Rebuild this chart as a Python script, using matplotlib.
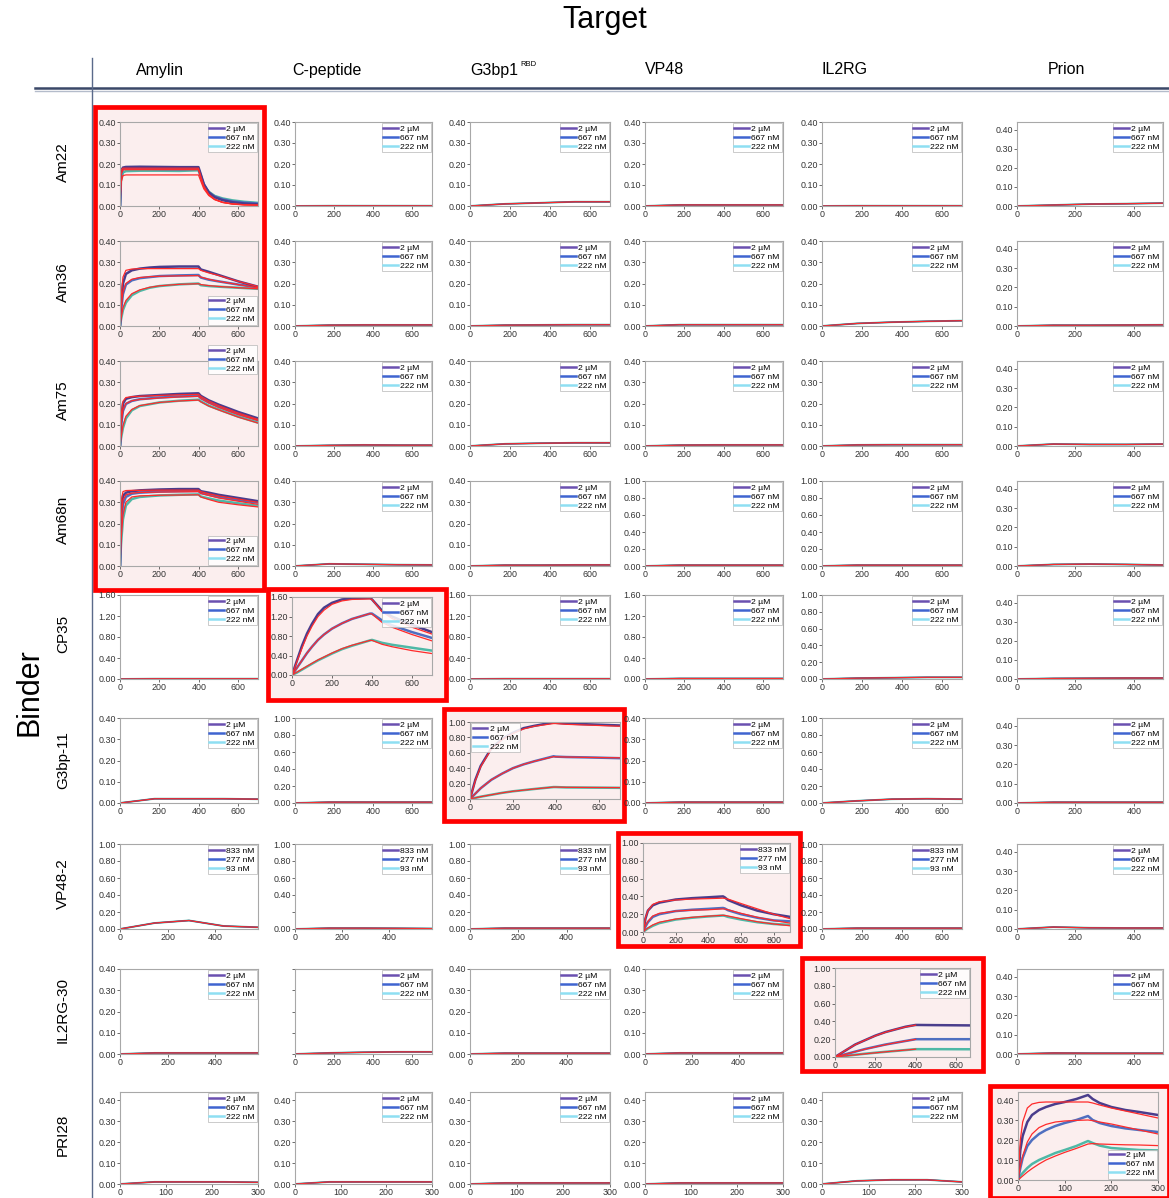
import matplotlib.pyplot as plt
from matplotlib.lines import Line2D
from matplotlib.patches import Rectangle

plt.rcParams['font.family'] = ['Liberation Sans', 'DejaVu Sans']

binders = ['Am22', 'Am36', 'Am75', 'Am68n', 'CP35', 'G3bp-11', 'VP48-2', 'IL2RG-30', 'PRI28']
targets = ['Amylin', 'C-peptide', 'G3bp1', 'VP48', 'IL2RG', 'Prion']
target_sup = ['', '', 'RBD', '', '', '']
conc_um = ['2 µM', '667 nM', '222 nM']
conc_vp = ['833 nM', '277 nM', '93 nM']

# axis ranges per panel (rows = binders, cols = targets)
y_max = [
    [0.40, 0.40, 0.40, 0.40, 0.40, 0.44],
    [0.40, 0.40, 0.40, 0.40, 0.40, 0.44],
    [0.40, 0.40, 0.40, 0.40, 0.40, 0.44],
    [0.40, 0.40, 0.40, 1.00, 1.00, 0.44],
    [1.60, 1.60, 1.60, 1.60, 1.00, 0.44],
    [0.40, 1.00, 1.00, 0.40, 1.00, 0.44],
    [1.00, 1.00, 1.00, 1.00, 1.00, 0.44],
    [0.40, 0.40, 0.40, 0.40, 1.00, 0.44],
    [0.44, 0.44, 0.44, 0.44, 0.44, 0.44],
]
x_max = [
    [700, 700, 700, 700, 700, 500],
    [700, 700, 700, 700, 700, 500],
    [700, 700, 700, 700, 700, 500],
    [700, 700, 700, 700, 700, 500],
    [700, 700, 700, 700, 700, 500],
    [700, 700, 700, 700, 700, 500],
    [580, 580, 580, 900, 700, 500],
    [580, 700, 580, 590, 670, 500],
    [300, 300, 300, 300, 300, 300],
]

# ---- binding panels (response vs time in s) ----
t_am22 = [0, 5, 15, 30, 100, 200, 300, 398, 410, 425, 450, 480, 520, 570, 630, 700]
am22_resp = [
    [0, 0.165, 0.183, 0.186, 0.187, 0.186, 0.185, 0.185, 0.15, 0.105, 0.065, 0.042, 0.028, 0.018, 0.012, 0.008],
    [0, 0.155, 0.176, 0.179, 0.178, 0.176, 0.175, 0.177, 0.145, 0.10, 0.065, 0.045, 0.032, 0.022, 0.016, 0.012],
    [0, 0.12, 0.16, 0.166, 0.168, 0.168, 0.167, 0.17, 0.14, 0.10, 0.068, 0.048, 0.036, 0.027, 0.02, 0.015],
]
am22_fit = [
    [0, 0.17, 0.18, 0.18, 0.18, 0.18, 0.18, 0.18, 0.14, 0.095, 0.055, 0.032, 0.017, 0.009, 0.005, 0.003],
    [0, 0.15, 0.172, 0.173, 0.173, 0.173, 0.173, 0.173, 0.135, 0.092, 0.054, 0.032, 0.018, 0.01, 0.006, 0.004],
    [0, 0.11, 0.145, 0.148, 0.148, 0.148, 0.148, 0.148, 0.118, 0.082, 0.05, 0.03, 0.017, 0.01, 0.006, 0.004],
]

t_am36 = [0, 5, 15, 30, 60, 100, 150, 200, 300, 398, 410, 450, 500, 600, 700]
am36_resp = [
    [0, 0.10, 0.20, 0.245, 0.262, 0.27, 0.275, 0.278, 0.28, 0.28, 0.266, 0.255, 0.24, 0.21, 0.185],
    [0, 0.07, 0.15, 0.195, 0.215, 0.225, 0.23, 0.235, 0.238, 0.24, 0.228, 0.218, 0.21, 0.195, 0.182],
    [0, 0.03, 0.075, 0.11, 0.145, 0.165, 0.18, 0.188, 0.196, 0.2, 0.192, 0.188, 0.185, 0.18, 0.175],
]
am36_fit = [
    [0, 0.13, 0.23, 0.262, 0.268, 0.27, 0.27, 0.27, 0.27, 0.27, 0.262, 0.25, 0.238, 0.21, 0.186],
    [0, 0.08, 0.16, 0.2, 0.22, 0.228, 0.232, 0.234, 0.236, 0.237, 0.23, 0.22, 0.21, 0.195, 0.18],
    [0, 0.035, 0.085, 0.12, 0.152, 0.17, 0.182, 0.189, 0.196, 0.199, 0.195, 0.19, 0.186, 0.18, 0.175],
]

t_am75 = [0, 5, 15, 30, 60, 100, 200, 300, 398, 410, 450, 500, 600, 700]
am75_resp = [
    [0, 0.12, 0.2, 0.222, 0.23, 0.235, 0.24, 0.245, 0.248, 0.236, 0.215, 0.195, 0.16, 0.13],
    [0, 0.09, 0.165, 0.198, 0.212, 0.22, 0.228, 0.233, 0.236, 0.225, 0.205, 0.185, 0.15, 0.122],
    [0, 0.035, 0.085, 0.13, 0.168, 0.188, 0.205, 0.213, 0.218, 0.21, 0.19, 0.172, 0.138, 0.11],
]
am75_fit = [
    [0, 0.14, 0.21, 0.228, 0.232, 0.234, 0.238, 0.241, 0.243, 0.233, 0.212, 0.19, 0.155, 0.125],
    [0, 0.1, 0.17, 0.2, 0.213, 0.219, 0.226, 0.231, 0.234, 0.224, 0.203, 0.182, 0.148, 0.12],
    [0, 0.04, 0.095, 0.14, 0.172, 0.19, 0.205, 0.212, 0.216, 0.208, 0.188, 0.17, 0.136, 0.108],
]

t_am68n = [0, 5, 15, 30, 60, 100, 200, 300, 398, 410, 450, 500, 600, 700]
am68n_resp = [
    [0, 0.25, 0.33, 0.345, 0.352, 0.356, 0.36, 0.362, 0.362, 0.352, 0.345, 0.335, 0.32, 0.305],
    [0, 0.18, 0.29, 0.325, 0.34, 0.345, 0.35, 0.352, 0.353, 0.343, 0.335, 0.325, 0.31, 0.298],
    [0, 0.1, 0.22, 0.285, 0.315, 0.325, 0.332, 0.335, 0.337, 0.327, 0.318, 0.308, 0.295, 0.283],
]
am68n_fit = [
    [0, 0.3, 0.35, 0.355, 0.356, 0.356, 0.357, 0.357, 0.357, 0.35, 0.34, 0.33, 0.315, 0.3],
    [0, 0.22, 0.31, 0.335, 0.343, 0.346, 0.348, 0.349, 0.35, 0.342, 0.332, 0.32, 0.305, 0.29],
    [0, 0.12, 0.24, 0.3, 0.325, 0.33, 0.333, 0.334, 0.335, 0.325, 0.313, 0.3, 0.288, 0.278],
]

t_cp35 = [0, 25, 50, 75, 100, 130, 160, 200, 250, 300, 390, 400, 450, 500, 600, 700]
cp35_resp = [
    [0, 0.3, 0.6, 0.85, 1.05, 1.25, 1.38, 1.48, 1.55, 1.57, 1.58, 1.55, 1.32, 1.2, 1.03, 0.88],
    [0, 0.15, 0.3, 0.45, 0.58, 0.72, 0.83, 0.95, 1.06, 1.15, 1.26, 1.26, 1.12, 1.02, 0.88, 0.76],
    [0, 0.05, 0.11, 0.17, 0.23, 0.3, 0.36, 0.44, 0.53, 0.6, 0.71, 0.72, 0.66, 0.62, 0.56, 0.5],
]
cp35_fit = [
    [0, 0.28, 0.55, 0.8, 1.0, 1.2, 1.33, 1.45, 1.52, 1.55, 1.56, 1.55, 1.3, 1.16, 0.98, 0.84],
    [0, 0.15, 0.3, 0.45, 0.58, 0.72, 0.83, 0.95, 1.06, 1.15, 1.26, 1.25, 1.08, 0.98, 0.83, 0.7],
    [0, 0.06, 0.12, 0.18, 0.24, 0.31, 0.37, 0.45, 0.54, 0.61, 0.71, 0.71, 0.63, 0.58, 0.5, 0.44],
]

t_g3bp11 = [0, 25, 50, 100, 150, 200, 250, 300, 390, 400, 450, 550, 700]
g3bp11_resp = [
    [0, 0.25, 0.43, 0.66, 0.78, 0.86, 0.92, 0.95, 0.995, 0.99, 0.98, 0.97, 0.955],
    [0, 0.07, 0.14, 0.25, 0.33, 0.4, 0.45, 0.49, 0.555, 0.55, 0.545, 0.54, 0.53],
    [0, 0.015, 0.03, 0.055, 0.08, 0.1, 0.115, 0.13, 0.155, 0.155, 0.15, 0.148, 0.145],
]
g3bp11_fit = [
    [0, 0.24, 0.42, 0.65, 0.77, 0.85, 0.91, 0.945, 0.98, 0.98, 0.97, 0.96, 0.945],
    [0, 0.07, 0.14, 0.25, 0.33, 0.4, 0.45, 0.49, 0.55, 0.548, 0.545, 0.54, 0.535],
    [0, 0.015, 0.03, 0.055, 0.08, 0.1, 0.115, 0.13, 0.155, 0.155, 0.152, 0.15, 0.148],
]

t_vp482 = [0, 15, 30, 60, 100, 200, 300, 400, 490, 500, 520, 600, 700, 800, 900]
vp482_resp = [
    [0, 0.15, 0.24, 0.3, 0.33, 0.365, 0.38, 0.39, 0.4, 0.39, 0.36, 0.3, 0.24, 0.2, 0.17],
    [0, 0.06, 0.11, 0.17, 0.2, 0.235, 0.25, 0.26, 0.27, 0.265, 0.245, 0.2, 0.16, 0.13, 0.12],
    [0, 0.02, 0.04, 0.07, 0.1, 0.14, 0.16, 0.175, 0.185, 0.182, 0.17, 0.14, 0.11, 0.09, 0.08],
]
vp482_fit = [
    [0, 0.16, 0.24, 0.31, 0.34, 0.36, 0.37, 0.375, 0.38, 0.378, 0.37, 0.32, 0.26, 0.2, 0.15],
    [0, 0.07, 0.12, 0.18, 0.21, 0.235, 0.245, 0.25, 0.26, 0.258, 0.25, 0.21, 0.165, 0.13, 0.1],
    [0, 0.025, 0.045, 0.08, 0.11, 0.145, 0.165, 0.178, 0.188, 0.186, 0.18, 0.15, 0.115, 0.09, 0.07],
]

t_il2rg30 = [0, 50, 100, 150, 200, 250, 300, 350, 400, 410, 500, 670]
il2rg30_resp = [
    [0, 0.07, 0.14, 0.19, 0.24, 0.28, 0.31, 0.34, 0.36, 0.36, 0.358, 0.355],
    [0, 0.03, 0.06, 0.09, 0.115, 0.14, 0.16, 0.18, 0.2, 0.2, 0.2, 0.2],
    [0, 0.012, 0.025, 0.037, 0.048, 0.058, 0.068, 0.078, 0.088, 0.088, 0.088, 0.087],
]
t_il2rg30_fit = [0, 50, 100, 150, 200, 250, 300, 350, 400]
il2rg30_fit = [
    [0, 0.072, 0.138, 0.19, 0.238, 0.278, 0.31, 0.338, 0.358],
    [0, 0.03, 0.06, 0.088, 0.114, 0.138, 0.16, 0.18, 0.198],
    [0, 0.012, 0.024, 0.036, 0.047, 0.058, 0.068, 0.078, 0.088],
]

t_pri28 = [0, 5, 10, 20, 30, 45, 60, 80, 100, 125, 150, 160, 175, 200, 230, 260, 300]
pri28_resp = [
    [0, 0.15, 0.22, 0.29, 0.325, 0.35, 0.365, 0.38, 0.39, 0.405, 0.425, 0.405, 0.385, 0.365, 0.35, 0.34, 0.325],
    [0, 0.06, 0.11, 0.17, 0.2, 0.23, 0.25, 0.27, 0.285, 0.3, 0.32, 0.3, 0.285, 0.27, 0.258, 0.25, 0.24],
    [0, 0.02, 0.035, 0.06, 0.08, 0.1, 0.115, 0.135, 0.15, 0.17, 0.195, 0.185, 0.172, 0.16, 0.155, 0.15, 0.148],
]
pri28_fit = [
    [0, 0.2, 0.29, 0.36, 0.38, 0.388, 0.39, 0.39, 0.39, 0.39, 0.39, 0.385, 0.375, 0.36, 0.345, 0.33, 0.31],
    [0, 0.07, 0.12, 0.19, 0.23, 0.262, 0.278, 0.29, 0.295, 0.298, 0.3, 0.297, 0.29, 0.28, 0.265, 0.25, 0.23],
    [0, 0.01, 0.02, 0.04, 0.057, 0.08, 0.1, 0.12, 0.138, 0.158, 0.18, 0.182, 0.18, 0.178, 0.176, 0.175, 0.172],
]

hits = {
    (0, 0): (t_am22, am22_resp, t_am22, am22_fit),
    (1, 0): (t_am36, am36_resp, t_am36, am36_fit),
    (2, 0): (t_am75, am75_resp, t_am75, am75_fit),
    (3, 0): (t_am68n, am68n_resp, t_am68n, am68n_fit),
    (4, 1): (t_cp35, cp35_resp, t_cp35, cp35_fit),
    (5, 2): (t_g3bp11, g3bp11_resp, t_g3bp11, g3bp11_fit),
    (6, 3): (t_vp482, vp482_resp, t_vp482, vp482_fit),
    (7, 4): (t_il2rg30, il2rg30_resp, t_il2rg30_fit, il2rg30_fit),
    (8, 5): (t_pri28, pri28_resp, t_pri28, pri28_fit),
}

# non-binding pairs: response at 0, 1/4, 1/2, 3/4 and end of the run
drift_frac = [0, 0.25, 0.5, 0.75, 1.0]
drift = {
    (0, 1): [0, 0.001, 0.001, 0.001, 0.001], (0, 2): [0, 0.01, 0.015, 0.02, 0.02],
    (0, 3): [0, 0.005, 0.005, 0.005, 0.005], (0, 4): [0, 0.001, 0.001, 0.001, 0.001],
    (0, 5): [0, 0.005, 0.01, 0.012, 0.015],
    (1, 1): [0, 0.004, 0.005, 0.005, 0.005], (1, 2): [0, 0.004, 0.005, 0.006, 0.006],
    (1, 3): [0, 0.006, 0.006, 0.006, 0.006], (1, 4): [0, 0.012, 0.018, 0.022, 0.025],
    (1, 5): [0, 0.004, 0.004, 0.005, 0.006],
    (2, 1): [0, 0.003, 0.005, 0.004, 0.004], (2, 2): [0, 0.01, 0.013, 0.015, 0.015],
    (2, 3): [0, 0.004, 0.005, 0.005, 0.005], (2, 4): [0, 0.005, 0.006, 0.006, 0.006],
    (2, 5): [0, 0.01, 0.008, 0.008, 0.01],
    (3, 1): [0, 0.01, 0.008, 0.006, 0.005], (3, 2): [0, 0.004, 0.004, 0.005, 0.005],
    (3, 3): [0, 0.01, 0.01, 0.01, 0.01], (3, 4): [0, 0.01, 0.01, 0.01, 0.01],
    (3, 5): [0, 0.008, 0.01, 0.008, 0.005],
    (4, 0): [0, 0.005, 0.005, 0.005, 0.005], (4, 2): [0, 0.005, 0.005, 0.005, 0.005],
    (4, 3): [0, 0.01, 0.01, 0.01, 0.01], (4, 4): [0, 0.01, 0.015, 0.02, 0.02],
    (4, 5): [0, 0.003, 0.004, 0.005, 0.005],
    (5, 0): [0, 0.02, 0.02, 0.02, 0.018], (5, 1): [0, 0.01, 0.01, 0.01, 0.01],
    (5, 3): [0, 0.004, 0.004, 0.004, 0.004], (5, 4): [0, 0.025, 0.045, 0.05, 0.045],
    (5, 5): [0, 0.004, 0.004, 0.004, 0.004],
    (6, 0): [0, 0.07, 0.1, 0.035, 0.02], (6, 1): [0, 0.01, 0.01, 0.008, 0.005],
    (6, 2): [0, 0.01, 0.01, 0.01, 0.01], (6, 4): [0, 0.01, 0.01, 0.01, 0.01],
    (6, 5): [0, 0.01, 0.006, 0.005, 0.005],
    (7, 0): [0, 0.005, 0.005, 0.005, 0.005], (7, 1): [0, 0.005, 0.008, 0.01, 0.01],
    (7, 2): [0, 0.004, 0.004, 0.004, 0.004], (7, 3): [0, 0.005, 0.005, 0.005, 0.005],
    (7, 5): [0, 0.005, 0.004, 0.004, 0.004],
    (8, 0): [0, 0.01, 0.01, 0.01, 0.008], (8, 1): [0, 0.01, 0.01, 0.01, 0.01],
    (8, 2): [0, 0.005, 0.005, 0.005, 0.005], (8, 3): [0, 0.005, 0.005, 0.005, 0.005],
    (8, 4): [0, 0.015, 0.02, 0.02, 0.01],
}

# ---- layout (pixels) ----
W, H = 1169, 1198
col_left = [120, 295, 470, 645, 822, 1017]
col_w = [138, 137, 140, 138, 140, 146]
row_top = [122, 241, 361, 481, 595, 718, 844, 969, 1092]
row_h = [84, 85, 85, 85, 84, 85, 85, 85, 92]
box_override = {
    (4, 1): (292, 597, 140, 78),
    (5, 2): (470, 722, 150, 77),
    (6, 3): (643, 843, 147, 89),
    (7, 4): (835, 968, 135, 89),
    (8, 5): (1018, 1092, 140, 88),
}
red_boxes = [
    (95, 107, 264, 590),
    (268, 589, 446, 700),
    (444, 709, 624, 821),
    (618, 833, 800, 946),
    (802, 958, 983, 1071),
    (990, 1086, 1169, 1198),
]
legend_loc = {(1, 0): 'lower right', (3, 0): 'lower right', (8, 5): 'lower right', (5, 2): 'upper left'}

data_colors = ['#4a3d8c', '#4f6fc0', '#4fb8a6']
legend_colors = ['#6a50b0', '#3f64d0', '#8edff2']
fit_color = '#ff2a2a'
pink = '#fbeeee'

fig = plt.figure(figsize=(W / 100, H / 100), dpi=100)

for x0, y0, x1, y1 in red_boxes:
    fig.add_artist(Rectangle((x0 / W, 1 - y1 / H), (x1 - x0) / W, (y1 - y0) / H,
                             transform=fig.transFigure, facecolor=pink,
                             edgecolor='#ff0000', lw=3.4, zorder=-5))

for r in range(len(binders)):
    for c in range(len(targets)):
        left, top, w, h = box_override.get((r, c), (col_left[c], row_top[r], col_w[c], row_h[r]))
        ax = fig.add_axes([left / W, 1 - (top + h) / H, w / W, h / H])
        ax.set_facecolor('none')
        xm, ym = x_max[r][c], y_max[r][c]

        if (r, c) in hits:
            t, resp, tf, fits = hits[(r, c)]
            for k in (2, 1, 0):
                ax.plot(t, resp[k], color=data_colors[k], lw=1.8, solid_capstyle='round')
            for k in range(3):
                ax.plot(tf, fits[k], color=fit_color, lw=0.9)
        else:
            vals = drift[(r, c)]
            t = [f * xm for f in drift_frac]
            ax.plot(t, vals, color=data_colors[2], lw=1.4)
            ax.plot(t, vals, color=data_colors[0], lw=1.0)
            ax.plot(t, vals, color=fit_color, lw=0.8)

        ax.set_xlim(0, xm)
        ax.set_ylim(0, ym)
        step_x = 100 if xm <= 300 else 200
        ax.set_xticks(list(range(0, xm + 1, step_x)))
        if ym > 1.5:
            yt = [0, 0.4, 0.8, 1.2, 1.6]
        elif ym > 0.9:
            yt = [0, 0.2, 0.4, 0.6, 0.8, 1.0]
        else:
            yt = [0, 0.1, 0.2, 0.3, 0.4]
        ax.set_yticks(yt)
        ylabels = ['%.2f' % v for v in yt]
        if (r, c) == (6, 1):
            ylabels[1] = ''
        if (r, c) == (7, 1):
            ylabels = [''] * len(yt)
        ax.set_yticklabels(ylabels)
        ax.tick_params(labelsize=6.4, length=2, width=0.5, pad=1, colors='#333333')
        for s in ax.spines.values():
            s.set_color('#a8a8a8')
            s.set_linewidth(0.8)

        labels = conc_vp if (r == 6 and c < 5) else conc_um
        handles = [Line2D([], [], color=legend_colors[k], lw=1.8) for k in range(3)]
        loc = legend_loc.get((r, c), 'upper right')
        kw = {}
        if (r, c) == (2, 0):
            kw['bbox_to_anchor'] = (1.0, 1.2)
        leg = ax.legend(handles, labels, loc=loc, fontsize=6.1, frameon=True, fancybox=False,
                        handlelength=1.7, handletextpad=0.3, labelspacing=0.12,
                        borderpad=0.2, borderaxespad=0.15, **kw)
        leg.get_frame().set_edgecolor('#b8b8b8')
        leg.get_frame().set_linewidth(0.6)
        leg.get_frame().set_alpha(0.85)

# headers
fig.text(605 / W, 1 - 20 / H, 'Target', fontsize=22, ha='center', va='center')
col_centers = [160, 327, 494, 665, 845, 1066]
for c, name in enumerate(targets):
    fig.text(col_centers[c] / W, 1 - 70 / H, name, fontsize=11.5, ha='center', va='center')
    if target_sup[c]:
        fig.text((col_centers[c] + 26) / W, 1 - 64 / H, target_sup[c], fontsize=5.5, ha='left', va='center')
row_centers = [162, 282, 400, 520, 634, 760, 884, 1010, 1135]
for r, name in enumerate(binders):
    fig.text(63 / W, 1 - row_centers[r] / H, name, fontsize=11, ha='center', va='center', rotation=90)
fig.text(30 / W, 1 - 692 / H, 'Binder', fontsize=22, ha='center', va='center', rotation=90)

fig.add_artist(Line2D([35 / W, 1], [1 - 88 / H] * 2, color='#3a4868', lw=1.8, transform=fig.transFigure))
fig.add_artist(Line2D([35 / W, 1], [1 - 90.5 / H] * 2, color='#b4bccb', lw=1.0, transform=fig.transFigure))
fig.add_artist(Line2D([92 / W] * 2, [1 - 58 / H, 0], color='#5a6a8a', lw=1.0, transform=fig.transFigure))

fig.savefig('out.png', dpi=100)
